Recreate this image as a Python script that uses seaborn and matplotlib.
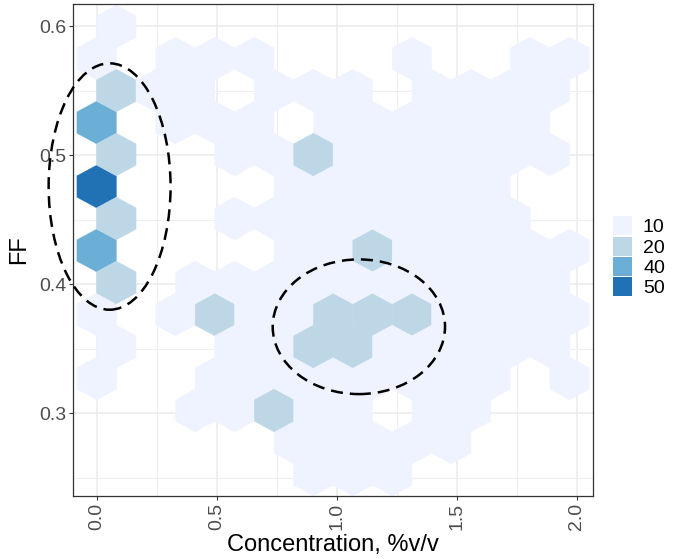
import numpy as np
import matplotlib
matplotlib.use("Agg")
import matplotlib.pyplot as plt
import seaborn as sns
from matplotlib.colors import ListedColormap, BoundaryNorm
from matplotlib.patches import Ellipse, Rectangle
from matplotlib.ticker import FormatStrFormatter

# ---- data: hex-bin centres (Concentration %v/v, FF) and count class ----
conc = [
    0.0821,                                                          # FF 0.5996
    0.0000, 0.3284, 0.4926, 0.6568, 1.3136, 1.8062, 1.9704,          # FF 0.5748
    0.0821, 0.2463, 0.4105, 0.7389, 0.9031, 1.0673, 1.3957, 1.5599, 1.7241, 1.8883,  # 0.5500
    0.0000, 0.3284, 0.4926, 0.6568, 0.9852, 1.1494, 1.3136, 1.4778, 1.6420, 1.8062,  # 0.5252
    0.0821, 0.5747, 0.7389, 0.9031, 1.0673, 1.2315, 1.3957, 1.5599, 1.7241, 1.8883,  # 0.5004
    0.0000, 0.8210, 0.9852, 1.1494, 1.3136, 1.4778, 1.6420,          # 0.4756
    0.0821, 0.5747, 0.7389, 0.9031, 1.0673, 1.2315, 1.3957, 1.5599, 1.7241,  # 0.4508
    0.0000, 0.8210, 0.9852, 1.1494, 1.3136, 1.4778, 1.6420, 1.8062, 1.9704,  # 0.4260
    0.0821, 0.4105, 0.5747, 0.7389, 0.9031, 1.0673, 1.2315, 1.3957, 1.5599, 1.7241, 1.8883,  # 0.4012
    0.0000, 0.3284, 0.4926, 0.6568, 0.8210, 0.9852, 1.1494, 1.3136, 1.4778, 1.6420, 1.8062, 1.9704,  # 0.3764
    0.0821, 0.5747, 0.7389, 0.9031, 1.0673, 1.2315, 1.3957, 1.5599, 1.7241, 1.8883,  # 0.3516
    0.0000, 0.4926, 0.6568, 0.8210, 0.9852, 1.1494, 1.3136, 1.4778, 1.6420, 1.9704,  # 0.3268
    0.4105, 0.5747, 0.7389, 0.9031, 1.0673, 1.3957, 1.5599,          # 0.3020
    0.8210, 0.9852, 1.1494, 1.3136, 1.4778,                          # 0.2772
    0.9031, 1.0673, 1.2315,                                          # 0.2524
]
ff = (
    [0.5996] * 1 + [0.5748] * 7 + [0.5500] * 10 + [0.5252] * 10 + [0.5004] * 10
    + [0.4756] * 7 + [0.4508] * 9 + [0.4260] * 9 + [0.4012] * 11 + [0.3764] * 12
    + [0.3516] * 10 + [0.3268] * 10 + [0.3020] * 7 + [0.2772] * 5 + [0.2524] * 3
)
count = [
    10,
    10, 10, 10, 10, 10, 10, 10,
    20, 10, 10, 10, 10, 10, 10, 10, 10, 10,
    40, 10, 10, 10, 10, 10, 10, 10, 10, 10,
    20, 10, 10, 20, 10, 10, 10, 10, 10, 10,
    50, 10, 10, 10, 10, 10, 10,
    20, 10, 10, 10, 10, 10, 10, 10, 10,
    40, 10, 10, 20, 10, 10, 10, 10, 10,
    20, 10, 10, 10, 10, 10, 10, 10, 10, 10, 10,
    10, 10, 20, 10, 10, 20, 20, 20, 10, 10, 10, 10,
    10, 10, 10, 20, 20, 10, 10, 10, 10, 10,
    10, 10, 10, 10, 10, 10, 10, 10, 10, 10,
    10, 10, 20, 10, 10, 10, 10,
    10, 10, 10, 10, 10,
    10, 10, 10,
]
legend_labels = ["10", "20", "40", "50"]
palette = ["#EFF3FF", "#BDD7E7", "#6BAED6", "#2171B5"]
x_ticks = [0.0, 0.5, 1.0, 1.5, 2.0]
y_ticks = [0.3, 0.4, 0.5, 0.6]

# hexagon lattice (bin layout)
HEX_EXTENT = (0.0, 1.9704, 0.2276, 0.6244)
HEX_GRID = (12, 8)

# annotation ellipses (centre x, centre y, width, height) in data units
ellipses = [(0.054, 0.4756, 0.508, 0.191), (1.0925, 0.3669, 0.718, 0.1044)]

# ---- style ----
sns.set_theme(style="whitegrid")
plt.rcParams['font.family'] = ['Liberation Sans', 'DejaVu Sans']

W, H = 683, 559
fig = plt.figure(figsize=(W / 100, H / 100), dpi=100)
ax = fig.add_axes([73 / W, 63 / H, 520 / W, 492 / H])
ax.set_facecolor("white")

cmap = ListedColormap(palette)
norm = BoundaryNorm([5, 15, 30, 45, 55], len(palette))
ax.hexbin(conc, ff, C=count, reduce_C_function=np.max,
          gridsize=HEX_GRID, extent=HEX_EXTENT,
          cmap=cmap, norm=norm, linewidths=0.3, edgecolors="face", zorder=2)

ax.set_xlim(-0.0985, 2.068)
ax.set_ylim(0.2357, 0.6171)
ax.set_xticks(x_ticks)
ax.set_yticks(y_ticks)
ax.set_xticks([0.25, 0.75, 1.25, 1.75], minor=True)
ax.set_yticks([0.25, 0.35, 0.45, 0.55], minor=True)
ax.xaxis.set_major_formatter(FormatStrFormatter('%.1f'))
ax.yaxis.set_major_formatter(FormatStrFormatter('%.1f'))
ax.grid(which="major", color="#EBEBEB", linewidth=1.1)
ax.grid(which="minor", color="#EFEFEF", linewidth=0.8)
ax.set_axisbelow(True)

for s in ax.spines.values():
    s.set_visible(True)
    s.set_color("#333333")
    s.set_linewidth(0.9)

ax.tick_params(axis="both", which="major", length=3, width=0.8, color="#333333",
               labelcolor="#4D4D4D", labelsize=14, pad=2, bottom=True, left=True)
ax.tick_params(axis="both", which="minor", length=0)
ax.tick_params(axis="x", labelrotation=90)

ax.set_xlabel("Concentration, %v/v", fontsize=17, color="black", labelpad=3)
ax.set_ylabel("FF", fontsize=17, color="black", labelpad=6)

for (cx, cy, ew, eh) in ellipses:
    e = Ellipse((cx, cy), ew, eh, fill=False, edgecolor="black", linewidth=1.8,
                linestyle=(0, (4.8, 2.8)), clip_on=False, zorder=5)
    ax.add_patch(e)

# ---- legend (manual keys) ----
key_tops = [216.5, 237.0, 257.0, 277.3]
for lab, col, top in zip(legend_labels, palette, key_tops):
    fig.add_artist(Rectangle((613 / W, (H - top - 18.5) / H), 19 / W, 18.5 / H,
                             transform=fig.transFigure, facecolor=col,
                             edgecolor="none"))
    fig.text(643 / W, (H - top - 9.25) / H, lab, fontsize=14, color="black",
             ha="left", va="center_baseline")

fig.savefig("out.png", dpi=100)
